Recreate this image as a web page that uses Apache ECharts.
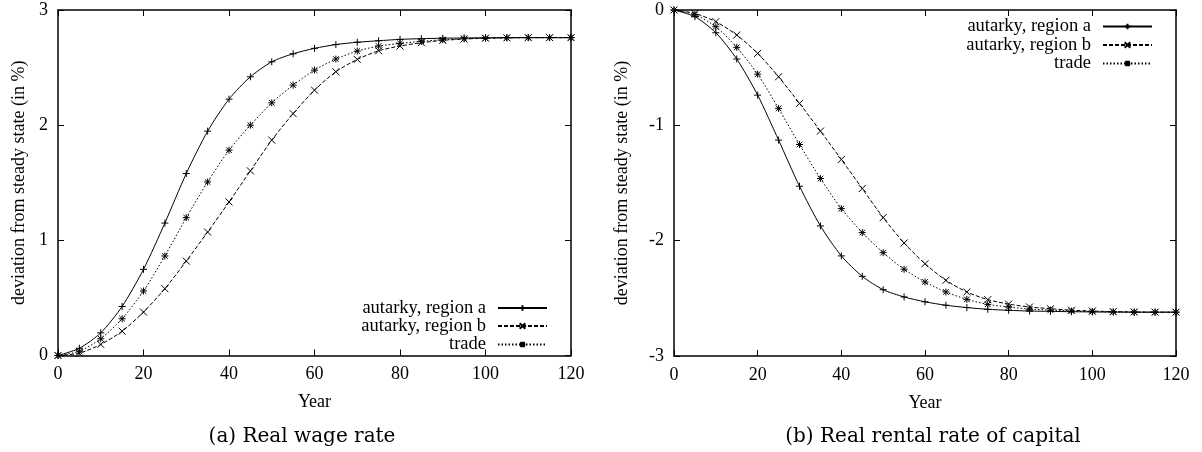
<!DOCTYPE html>
<html>
<head>
<meta charset="utf-8">
<script src="https://cdn.jsdelivr.net/npm/echarts@6/dist/echarts.min.js"></script>
<style>html,body{margin:0;padding:0;background:#fff}#c{width:1202px;height:452px}</style>
</head>
<body>
<div id="c"></div>
<script>
const years = [0,5,10,15,20,25,30,35,40,45,50,55,60,65,70,75,80,85,90,95,100,105,110,115,120];
const seriesNames = ['autarky, region a', 'autarky, region b', 'trade'];
const wageA = [0,0.063,0.197,0.426,0.748,1.15,1.58,1.948,2.226,2.42,2.55,2.62,2.667,2.70,2.72,2.733,2.745,2.751,2.755,2.757,2.759,2.76,2.76,2.76,2.76];
const wageB = [0,0.02,0.096,0.211,0.377,0.58,0.82,1.072,1.333,1.603,1.87,2.1,2.304,2.464,2.571,2.646,2.687,2.716,2.736,2.748,2.755,2.758,2.76,2.76,2.76];
const wageTrade = [0,0.037,0.145,0.319,0.56,0.864,1.197,1.507,1.783,2.0,2.194,2.348,2.478,2.574,2.643,2.687,2.71,2.728,2.742,2.75,2.755,2.758,2.76,2.76,2.76];
const rentA = [0,-0.058,-0.197,-0.425,-0.738,-1.128,-1.528,-1.872,-2.132,-2.309,-2.425,-2.488,-2.53,-2.56,-2.58,-2.595,-2.604,-2.61,-2.613,-2.616,-2.618,-2.619,-2.62,-2.62,-2.62];
const rentB = [0,-0.03,-0.101,-0.217,-0.376,-0.579,-0.81,-1.05,-1.296,-1.548,-1.8,-2.02,-2.2,-2.344,-2.445,-2.511,-2.55,-2.575,-2.59,-2.603,-2.61,-2.615,-2.618,-2.62,-2.62];
const rentTrade = [0,-0.04,-0.145,-0.324,-0.556,-0.853,-1.166,-1.461,-1.722,-1.93,-2.104,-2.248,-2.358,-2.445,-2.509,-2.552,-2.575,-2.593,-2.602,-2.61,-2.615,-2.618,-2.62,-2.62,-2.62];
const xRange = [0, 120];
const yRangeWage = [0, 3];
const yRangeRent = [-3, 0];
const yTitle = 'deviation from steady state (in %)';
const xTitle = 'Year';
const captions = ['(a) Real wage rate', '(b) Real rental rate of capital'];

const SERIF = '"Liberation Serif", "Times New Roman", serif';
const symPlus = 'path://M5,0L5,10M0,5L10,5';
const symCross = 'path://M0,0L10,10M10,0L0,10';
const symStar = 'path://M5,0L5,10M0,5L10,5M1,1L9,9M9,1L1,9';
const styles = [
  {symbol: symPlus, type: 'solid'},
  {symbol: symCross, type: [4, 2]},
  {symbol: symStar, type: [1.5, 2]}
];
const pairs = (ys) => years.map((x, i) => [x, ys[i]]);

function mkSeries(name, ys, idx, k) {
  const st = styles[k];
  return {
    name: name, type: 'line', xAxisIndex: idx * 2, yAxisIndex: idx * 2,
    data: pairs(ys), smooth: 0.25,
    symbol: st.symbol, symbolSize: 7, showSymbol: true,
    lineStyle: {color: '#000', width: 1, type: st.type},
    itemStyle: {color: '#000', borderColor: '#000', borderWidth: 1},
    emphasis: {disabled: true}, silent: true, z: 3
  };
}
const axisLine = {show: true, onZero: false, lineStyle: {color: '#000', width: 1.5}};
const tick = {show: true, inside: true, length: 6, lineStyle: {color: '#000', width: 1}};
const lbl = {color: '#000', fontFamily: SERIF, fontSize: 18};

function xAxes(gi) {
  return [
    {type: 'value', gridIndex: gi, min: xRange[0], max: xRange[1], interval: 20, position: 'bottom',
     axisLine: axisLine, axisTick: tick, splitLine: {show: false},
     axisLabel: Object.assign({margin: 10}, lbl),
     name: xTitle, nameLocation: 'middle', nameGap: 38, nameTextStyle: lbl},
    {type: 'value', gridIndex: gi, min: xRange[0], max: xRange[1], interval: 20, position: 'top',
     axisLine: axisLine, axisTick: tick, splitLine: {show: false}, axisLabel: {show: false}}
  ];
}
function yAxes(gi, rng, gap) {
  return [
    {type: 'value', gridIndex: gi, min: rng[0], max: rng[1], interval: 1, position: 'left',
     axisLine: axisLine, axisTick: tick, splitLine: {show: false},
     axisLabel: Object.assign({margin: 10}, lbl),
     name: yTitle, nameLocation: 'middle', nameGap: gap, nameRotate: 90, nameTextStyle: lbl},
    {type: 'value', gridIndex: gi, min: rng[0], max: rng[1], interval: 1, position: 'right',
     axisLine: axisLine, axisTick: tick, splitLine: {show: false}, axisLabel: {show: false}}
  ];
}
function legends(rightPos, tops) {
  return seriesNames.map((n, k) => ({
    data: [n], orient: 'vertical', align: 'right', right: rightPos, top: tops[k],
    itemWidth: 49, itemHeight: 7, padding: 0, selectedMode: false,
    textStyle: {color: '#000', fontFamily: SERIF, fontSize: 18.5, lineHeight: 18, padding: [0, 7, 0, 0]}
  }));
}
const capStyle = (t) => ({text: t, fontFamily: '"DejaVu Serif", serif', fontSize: 20, fill: '#000',
  align: 'center', verticalAlign: 'middle', textAlign: 'center', textVerticalAlign: 'middle'});

const chart = echarts.init(document.getElementById('c'), null, {renderer: 'canvas'});
chart.setOption({
  animation: false,
  backgroundColor: '#fff',
  grid: [
    {left: 58, top: 10, width: 513, height: 345.5},
    {left: 674, top: 10, width: 502, height: 346}
  ],
  xAxis: xAxes(0).concat(xAxes(1)),
  yAxis: yAxes(0, yRangeWage, 30).concat(yAxes(1, yRangeRent, 43)),
  legend: legends(654, [298.5, 316.5, 335]).concat(legends(49, [17, 35.5, 54])),
  series: [
    mkSeries(seriesNames[0], wageA, 0, 0),
    mkSeries(seriesNames[1], wageB, 0, 1),
    mkSeries(seriesNames[2], wageTrade, 0, 2),
    mkSeries(seriesNames[0], rentA, 1, 0),
    mkSeries(seriesNames[1], rentB, 1, 1),
    mkSeries(seriesNames[2], rentTrade, 1, 2)
  ],
  graphic: [
    {type: 'text', x: 302, y: 437, silent: true, style: capStyle(captions[0])},
    {type: 'text', x: 933, y: 437, silent: true, style: capStyle(captions[1])}
  ]
});
</script>
</body>
</html>
